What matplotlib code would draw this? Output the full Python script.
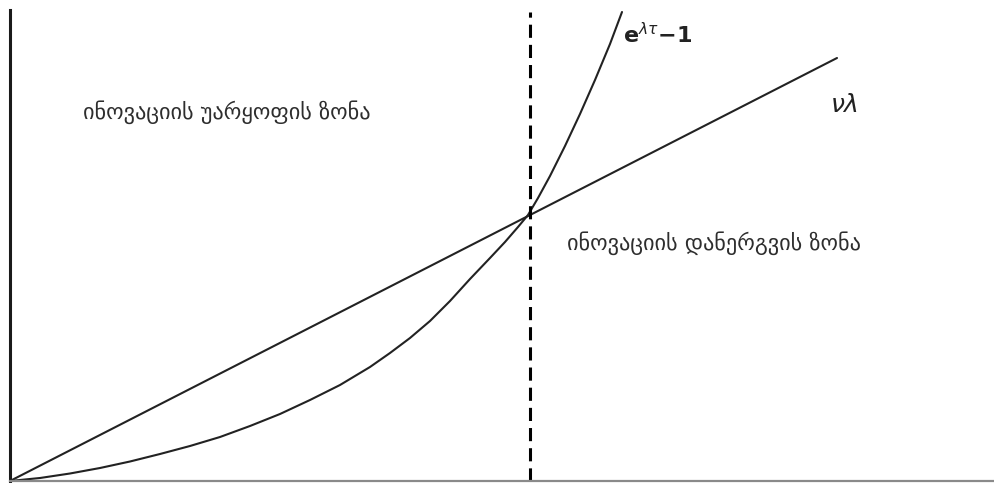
import matplotlib
matplotlib.use("Agg")
import matplotlib.pyplot as plt

plt.rcParams['font.family'] = ['DejaVu Sans']
plt.rcParams['mathtext.fontset'] = 'dejavusans'

# Data (pixel-like units from origin)
curve_x = [0, 30, 60, 90, 120, 150, 180, 210, 240, 270, 300, 330, 360, 380, 400,
           420, 440, 460, 480, 495, 508, 518, 528, 540, 555, 570, 585, 600, 612]
curve_y = [0, 3, 7.5, 13, 19.5, 27, 35, 44, 55, 67, 81, 96, 114, 128, 143,
           160, 180, 202, 223, 239, 254, 266, 283, 305, 335, 367, 401, 437, 469]
line_x = [0, 827]
line_y = [0, 423]
threshold_x = 520
threshold_top = 469

label_reject = "ინოვაციის უარყოფის ზონა"
label_adopt = "ინოვაციის დანერგვის ზონა"
label_curve = r"$\mathbf{e}^{\lambda\tau}\mathbf{-1}$"
label_line = r"$\nu\lambda$"

W, H = 995, 483
fig = plt.figure(figsize=(W / 100, H / 100), dpi=100)
ax = fig.add_axes([10 / W, 2 / H, 985 / W, 471 / H])
ax.set_xlim(0, 985)
ax.set_ylim(0, 471)

ax.plot(curve_x, curve_y, color='#222222', lw=1.5, solid_joinstyle='round',
        solid_capstyle='round')
ax.plot(line_x, line_y, color='#222222', lw=1.5, solid_capstyle='round')
ax.plot([threshold_x, threshold_x], [0, threshold_top], color='black', lw=2.2,
        dashes=(4.3, 2.3))

ax.text(73, 369, label_reject, fontsize=16, color='#2e2e2e', va='center', ha='left')
ax.text(557, 238, label_adopt, fontsize=16, color='#2e2e2e', va='center', ha='left')
ax.text(613, 446, label_curve, fontsize=16, color='#222222', va='center', ha='left')
ax.text(820, 376, label_line, fontsize=18, color='#222222', va='center', ha='left')

for s in ['top', 'right']:
    ax.spines[s].set_visible(False)
ax.spines['left'].set_linewidth(2.2)
ax.spines['left'].set_color('#1a1a1a')
ax.spines['left'].set_bounds(0, 471)
ax.spines['bottom'].set_linewidth(1.6)
ax.spines['bottom'].set_color('#8a8a8a')
ax.set_xticks([])
ax.set_yticks([])

fig.savefig('out.png', dpi=100)
